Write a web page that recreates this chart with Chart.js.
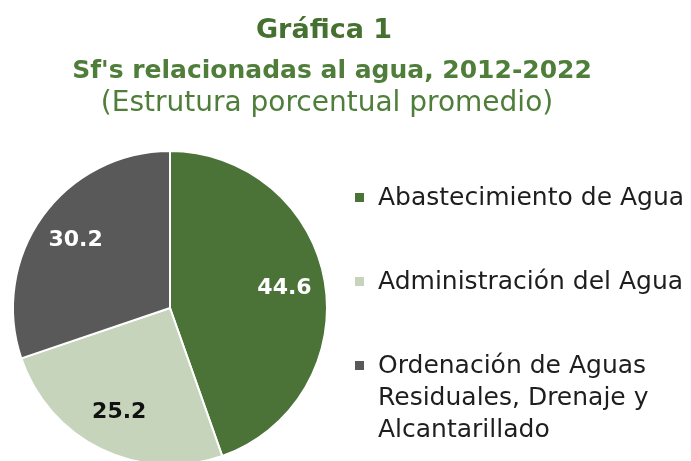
<!DOCTYPE html>
<html>
<head>
<meta charset="utf-8">
<script src="https://cdn.jsdelivr.net/npm/chart.js@4/dist/chart.umd.min.js"></script>
<style>
  html, body { margin: 0; padding: 0; background: #ffffff; overflow: hidden; }
  #wrap { width: 691px; height: 461px; overflow: hidden; position: relative; }
  canvas { display: block; }
</style>
</head>
<body>
<div id="wrap"><canvas id="c" width="691" height="470" style="width:691px;height:470px"></canvas></div>
<script>
// ---- data ----
const categories = [
  'Abastecimiento de Agua',
  'Administración del Agua',
  ['Ordenación de Aguas', 'Residuales, Drenaje y', 'Alcantarillado']
];
const shares = [44.6, 25.2, 30.2];
const titleText = 'Gráfica 1';
const subtitleText = "Sf's relacionadas al agua, 2012-2022";
const noteText = '(Estrutura porcentual promedio)';

// ---- styles ----
const sliceColors = ['#4b7338', '#c5d4ba', '#595959'];
const valueColors = ['#ffffff', '#111111', '#ffffff'];
const titleColor = '#46702f';
const subColor = '#4f7d3a';
const FONT = '"DejaVu Sans", "Open Sans", sans-serif';

const headerPlugin = {
  id: 'header',
  afterDraw(chart) {
    const ctx = chart.ctx;
    ctx.save();
    ctx.textAlign = 'center';
    ctx.textBaseline = 'alphabetic';
    ctx.fillStyle = titleColor;
    ctx.font = 'bold 27px ' + FONT;
    ctx.fillText(titleText, 324, 38);
    ctx.fillStyle = subColor;
    ctx.font = 'bold 25px ' + FONT;
    ctx.fillText(subtitleText, 332, 78);
    ctx.font = '28px ' + FONT;
    ctx.fillText(noteText, 327, 111);
    ctx.restore();
  }
};

const legendPlugin = {
  id: 'sideLegend',
  afterDraw(chart) {
    const ctx = chart.ctx;
    const labels = chart.data.labels;
    const colors = chart.data.datasets[0].backgroundColor;
    ctx.save();
    ctx.textAlign = 'left';
    ctx.textBaseline = 'alphabetic';
    ctx.font = '25px ' + FONT;
    labels.forEach((lab, i) => {
      const base = 205 + i * 84;
      ctx.fillStyle = colors[i];
      ctx.fillRect(355, base - 12, 9, 9);
      ctx.fillStyle = '#1e1e1e';
      const lines = Array.isArray(lab) ? lab : [lab];
      lines.forEach((ln, j) => ctx.fillText(ln, 378, base + j * 32));
    });
    ctx.restore();
  }
};

const valuePlugin = {
  id: 'values',
  afterDatasetsDraw(chart) {
    const ctx = chart.ctx;
    const meta = chart.getDatasetMeta(0);
    ctx.save();
    ctx.textAlign = 'center';
    ctx.textBaseline = 'middle';
    ctx.font = 'bold 22px ' + FONT;
    meta.data.forEach((arc, i) => {
      const p = arc.getProps(['x', 'y', 'startAngle', 'endAngle', 'outerRadius'], true);
      const mid = (p.startAngle + p.endAngle) / 2;
      const r = p.outerRadius * 0.74;
      ctx.fillStyle = valueColors[i];
      ctx.fillText(shares[i].toFixed(1), p.x + Math.cos(mid) * r, p.y + Math.sin(mid) * r);
    });
    ctx.restore();
  }
};

new Chart(document.getElementById('c'), {
  type: 'pie',
  data: {
    labels: categories,
    datasets: [{
      data: shares,
      backgroundColor: sliceColors,
      borderColor: '#ffffff',
      borderWidth: 2
    }]
  },
  options: {
    responsive: false,
    devicePixelRatio: 1,
    animation: false,
    layout: { padding: { left: 12, right: 363, top: 150, bottom: 4 } },
    plugins: {
      legend: { display: false },
      tooltip: { enabled: false },
      title: { display: false }
    }
  },
  plugins: [valuePlugin, headerPlugin, legendPlugin]
});
</script>
</body>
</html>
